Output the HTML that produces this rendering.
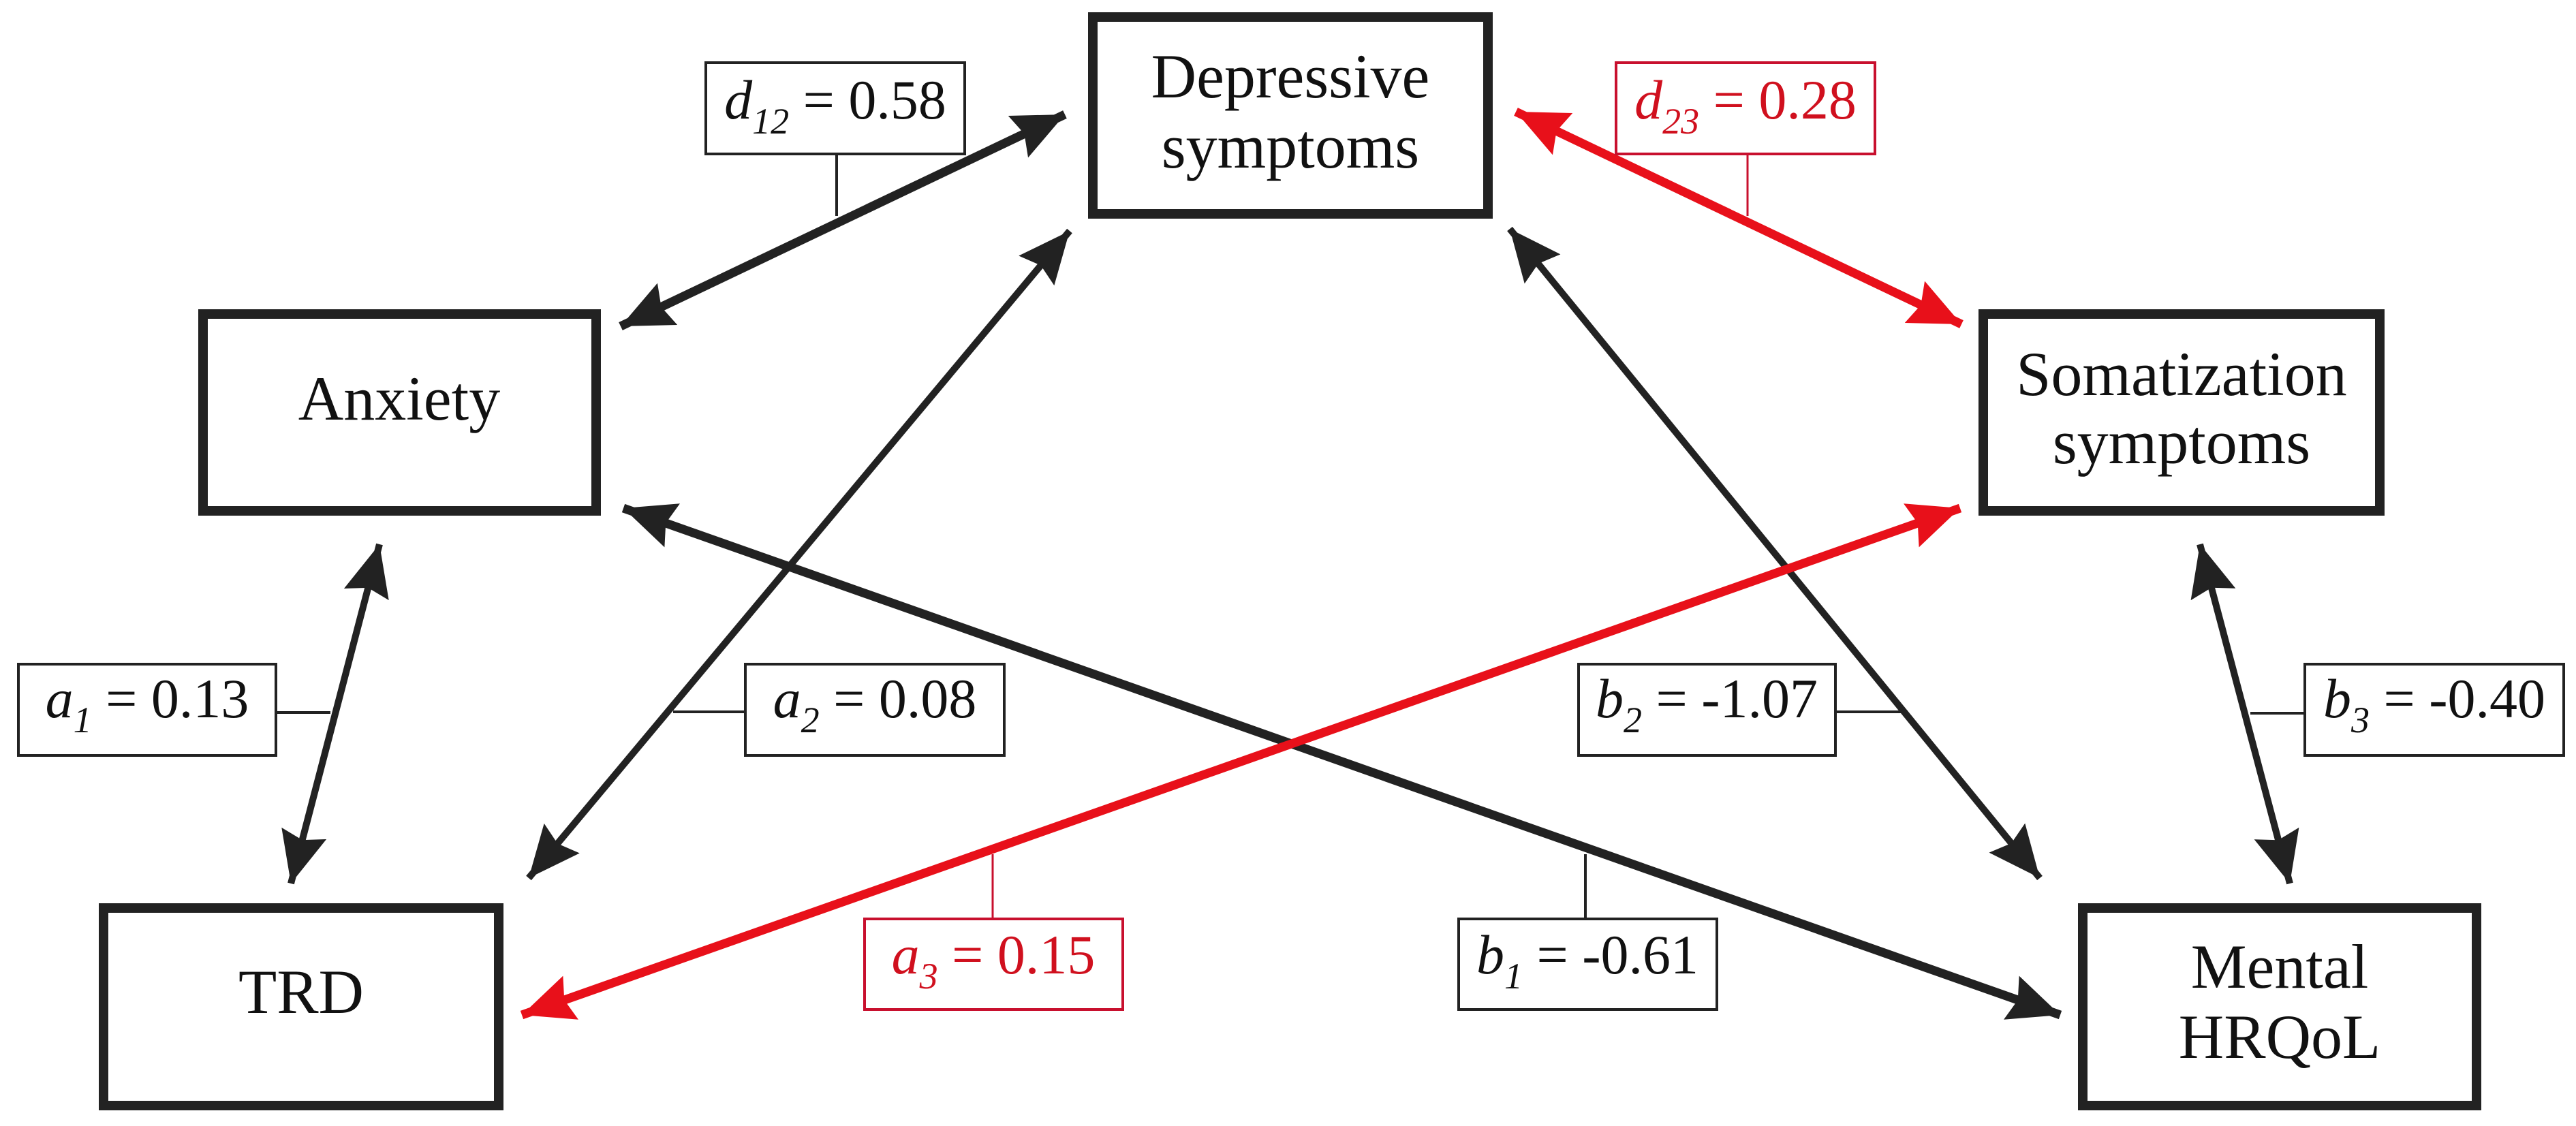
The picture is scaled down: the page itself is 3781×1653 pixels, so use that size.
<!DOCTYPE html>
<html><head><meta charset="utf-8"><style>
html,body{margin:0;padding:0;background:#fff;}
svg{display:block;}
</style></head><body>
<svg width="3781" height="1653" viewBox="0 0 3781 1653" xmlns="http://www.w3.org/2000/svg" font-family="Liberation Serif, serif">
<defs>
<marker id="hb" markerUnits="userSpaceOnUse" markerWidth="90" markerHeight="80" refX="76" refY="34" orient="auto-start-reverse" viewBox="0 0 90 80"><path d="M0,0 L76,34 L0,68 L10,34 Z" fill="#222"/></marker>
<marker id="hr" markerUnits="userSpaceOnUse" markerWidth="90" markerHeight="80" refX="76" refY="34" orient="auto-start-reverse" viewBox="0 0 90 80"><path d="M0,0 L76,34 L0,68 L10,34 Z" fill="#e8101a"/></marker>
</defs>
<g fill="none" stroke="#222" stroke-width="14">
<rect x="1604" y="25" width="580" height="289"/>
<rect x="298" y="461" width="577" height="289"/>
<rect x="2911" y="461" width="582" height="289"/>
<rect x="152" y="1333" width="580" height="290"/>
<rect x="3057" y="1333" width="578" height="290"/>
</g>
<g font-size="92" text-anchor="middle" fill="#111" font-family="Liberation Serif, serif">
<text x="1894" y="143">Depressive</text>
<text x="1894" y="246">symptoms</text>
<text x="586" y="616">Anxiety</text>
<text x="3202" y="580">Somatization</text>
<text x="3202" y="680">symptoms</text>
<text x="442" y="1487">TRD</text>
<text x="3346" y="1450">Mental</text>
<text x="3346" y="1553">HRQoL</text>
</g>
<g stroke="#222" fill="none">
<line x1="911" y1="479" x2="1563" y2="168" stroke-width="13" marker-start="url(#hb)" marker-end="url(#hb)"/>
<line x1="1570" y1="339" x2="776" y2="1289" stroke-width="10" marker-start="url(#hb)" marker-end="url(#hb)"/>
<line x1="2216" y1="336" x2="2994" y2="1289" stroke-width="10" marker-start="url(#hb)" marker-end="url(#hb)"/>
<line x1="915" y1="746" x2="3024" y2="1490" stroke-width="13" marker-start="url(#hb)" marker-end="url(#hb)"/>
<line x1="557" y1="799" x2="427" y2="1297" stroke-width="10" marker-start="url(#hb)" marker-end="url(#hb)"/>
<line x1="3229" y1="799" x2="3361" y2="1297" stroke-width="10" marker-start="url(#hb)" marker-end="url(#hb)"/>
</g>
<g stroke="#e8101a" fill="none">
<line x1="2225" y1="164" x2="2879" y2="476" stroke-width="13" marker-start="url(#hr)" marker-end="url(#hr)"/>
<line x1="2877" y1="746" x2="766" y2="1490" stroke-width="13" marker-start="url(#hr)" marker-end="url(#hr)"/>
</g>
<g stroke="#222" stroke-width="4">
<line x1="1228" y1="226" x2="1228" y2="317"/>
<line x1="405" y1="1046" x2="485" y2="1046"/>
<line x1="988" y1="1045" x2="1094" y2="1045"/>
<line x1="2694" y1="1045" x2="2800" y2="1045"/>
<line x1="3303" y1="1047" x2="3383" y2="1047"/>
<line x1="2327" y1="1254" x2="2327" y2="1349"/>
</g>
<g stroke="#c8102e" stroke-width="3">
<line x1="2565" y1="226" x2="2565" y2="317"/>
<line x1="1457" y1="1254" x2="1457" y2="1349"/>
</g>
<g fill="#fff" stroke="#222" stroke-width="4">
<rect x="1036" y="92" width="380" height="134"/>
<rect x="27" y="975" width="378" height="134"/>
<rect x="1094" y="975" width="380" height="134"/>
<rect x="2317" y="975" width="377" height="134"/>
<rect x="3383" y="975" width="380" height="134"/>
<rect x="2141" y="1349" width="379" height="133"/>
</g>
<g fill="#fff" stroke="#c8102e" stroke-width="4">
<rect x="2372" y="92" width="380" height="134"/>
<rect x="1269" y="1349" width="379" height="133"/>
</g>
<g font-size="82" text-anchor="middle" fill="#111" font-family="Liberation Serif, serif">
<text x="1226" y="174" font-family="Liberation Serif, serif"><tspan font-style="italic">d</tspan><tspan font-style="italic" font-size="54" dy="22">12</tspan><tspan dy="-22"> = 0.58</tspan></text>
<text x="216" y="1053" font-family="Liberation Serif, serif"><tspan font-style="italic">a</tspan><tspan font-style="italic" font-size="54" dy="22">1</tspan><tspan dy="-22"> = 0.13</tspan></text>
<text x="1284" y="1053" font-family="Liberation Serif, serif"><tspan font-style="italic">a</tspan><tspan font-style="italic" font-size="54" dy="22">2</tspan><tspan dy="-22"> = 0.08</tspan></text>
<text x="2505" y="1053" font-family="Liberation Serif, serif"><tspan font-style="italic">b</tspan><tspan font-style="italic" font-size="54" dy="22">2</tspan><tspan dy="-22"> = -1.07</tspan></text>
<text x="3573" y="1053" font-family="Liberation Serif, serif"><tspan font-style="italic">b</tspan><tspan font-style="italic" font-size="54" dy="22">3</tspan><tspan dy="-22">  = -0.40</tspan></text>
<text x="2330" y="1429" font-family="Liberation Serif, serif"><tspan font-style="italic">b</tspan><tspan font-style="italic" font-size="54" dy="22">1</tspan><tspan dy="-22"> = -0.61</tspan></text>
</g>
<g font-size="82" text-anchor="middle" fill="#d0101e" font-family="Liberation Serif, serif">
<text x="2562" y="174" font-family="Liberation Serif, serif"><tspan font-style="italic">d</tspan><tspan font-style="italic" font-size="54" dy="22">23</tspan><tspan dy="-22"> = 0.28</tspan></text>
<text x="1458" y="1429" font-family="Liberation Serif, serif"><tspan font-style="italic">a</tspan><tspan font-style="italic" font-size="54" dy="22">3</tspan><tspan dy="-22"> = 0.15</tspan></text>
</g>
</svg>
</body></html>
